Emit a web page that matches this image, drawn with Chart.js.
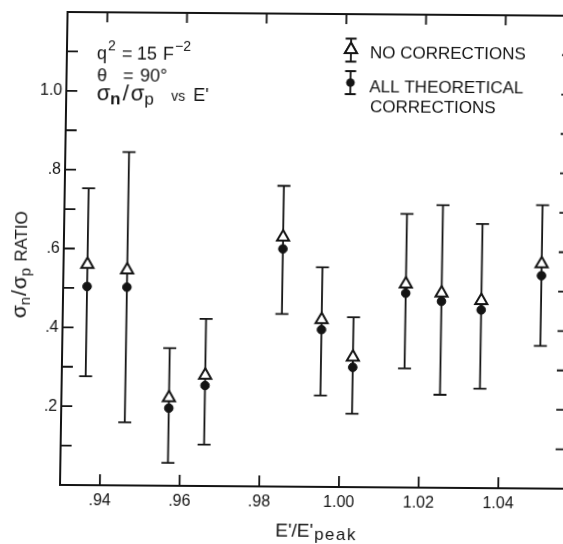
<!DOCTYPE html>
<html>
<head>
<meta charset="utf-8">
<script src="https://cdn.jsdelivr.net/npm/chart.js@4/dist/chart.umd.min.js"></script>
<style>
  html, body { margin: 0; padding: 0; background: #fff; overflow: hidden; }
  #wrap { position: relative; width: 563px; height: 544px; overflow: hidden; }
  /* the scanned figure is slightly skewed */
  #ratioChart { position: absolute; left: 0; top: 0; transform-origin: 60px 485px; transform: matrix(1, 0.0075, -0.016, 1, 0, 0); }
</style>
</head>
<body>
<div id="wrap"><canvas id="ratioChart" width="600" height="544"></canvas></div>
<script>
// E'/E'peak of each measurement
const energy = [0.936, 0.946, 0.957, 0.966, 0.985, 0.995, 1.003, 1.016, 1.025, 1.035, 1.050];
// sigma_n / sigma_p, no corrections (open triangles)
const noCorr = [0.560, 0.547, 0.223, 0.281, 0.633, 0.424, 0.330, 0.516, 0.494, 0.476, 0.570];
// sigma_n / sigma_p, all theoretical corrections (filled circles)
const allCorr = [0.504, 0.503, 0.197, 0.255, 0.603, 0.399, 0.304, 0.493, 0.473, 0.452, 0.540];
// error bar ends
const errHigh = [0.753, 0.846, 0.349, 0.424, 0.763, 0.557, 0.431, 0.694, 0.717, 0.670, 0.719];
const errLow = [0.276, 0.160, 0.058, 0.105, 0.438, 0.232, 0.186, 0.302, 0.236, 0.252, 0.362];

const xTickValues = [0.94, 0.96, 0.98, 1.00, 1.02, 1.04];
const yTickValues = [0.2, 0.4, 0.6, 0.8, 1.0];
const yMinorTicks = [0.1, 0.2, 0.3, 0.4, 0.5, 0.6, 0.7, 0.8, 0.9, 1.0, 1.1];

const INK = '#141414';
const FONT = '"Liberation Sans", Arial, sans-serif';

function font(size, weight) {
  return (weight || 'normal') + ' ' + size + 'px ' + FONT;
}

// draw text pieces one after another (sub/superscripts);
// a piece may carry its own x (at) and extra space before it (gap)
function drawRuns(ctx, runs, x, y) {
  runs.forEach(r => {
    ctx.font = font(r.size, r.weight);
    if (r.at !== undefined) x = r.at;
    x += r.gap || 0;
    ctx.fillText(r.t, x, y + (r.dy || 0));
    x += ctx.measureText(r.t).width;
  });
  return x;
}

function runsWidth(ctx, runs) {
  let w = 0;
  runs.forEach(r => {
    ctx.font = font(r.size, r.weight);
    w += ctx.measureText(r.t).width + (r.gap || 0);
  });
  return w;
}

function errorBar(ctx, x, yTop, yBottom, cap) {
  ctx.beginPath();
  ctx.moveTo(x, yTop);
  ctx.lineTo(x, yBottom);
  ctx.moveTo(x - cap, yTop);
  ctx.lineTo(x + cap, yTop);
  ctx.moveTo(x - cap, yBottom);
  ctx.lineTo(x + cap, yBottom);
  ctx.stroke();
}

// -------------------
// Error bars, under the markers
// -------------------
const errorBarPlugin = {
  id: 'errorBars',
  beforeDatasetsDraw(chart) {
    const { ctx, scales: { x, y } } = chart;
    ctx.save();
    ctx.strokeStyle = INK;
    ctx.lineWidth = 1.8;
    energy.forEach((e, i) => {
      errorBar(ctx, x.getPixelForValue(e), y.getPixelForValue(errHigh[i]), y.getPixelForValue(errLow[i]), 6.5);
    });
    ctx.restore();
  }
};

// -------------------
// Box with inward ticks on all four sides
// -------------------
const framePlugin = {
  id: 'frame',
  afterDatasetsDraw(chart) {
    const { ctx, chartArea: a, scales: { x, y } } = chart;
    const len = 11;
    ctx.save();
    ctx.strokeStyle = INK;
    ctx.lineWidth = 2;
    ctx.strokeRect(a.left, a.top, a.right - a.left, a.bottom - a.top);
    ctx.lineWidth = 1.8;
    ctx.beginPath();
    xTickValues.forEach(v => {
      const px = x.getPixelForValue(v);
      ctx.moveTo(px, a.bottom);
      ctx.lineTo(px, a.bottom - len);
      ctx.moveTo(px, a.top);
      ctx.lineTo(px, a.top + len - 1);
    });
    yMinorTicks.forEach(v => {
      const py = y.getPixelForValue(v);
      ctx.moveTo(a.left, py);
      ctx.lineTo(a.left + len, py);
      ctx.moveTo(a.right, py);
      ctx.lineTo(a.right - len, py);
    });
    ctx.stroke();
    ctx.restore();
  }
};

// -------------------
// Axis titles, notes and the key
// -------------------
const notesPlugin = {
  id: 'notes',
  afterDraw(chart) {
    const ctx = chart.ctx;
    ctx.save();
    ctx.fillStyle = INK;
    ctx.strokeStyle = INK;
    ctx.textBaseline = 'alphabetic';
    ctx.textAlign = 'left';

    // top-left notes
    drawRuns(ctx, [
      { t: 'q', size: 18, at: 90 }, { t: '2', size: 14, dy: -9, gap: 1 },
      { t: '=', size: 18, at: 115 }, { t: '15', size: 18, at: 130 },
      { t: 'F', size: 18, at: 156 }, { t: '\u22122', size: 14, dy: -9, gap: 1 }
    ], 90, 58.5);
    drawRuns(ctx, [
      { t: '\u03B8', size: 18, at: 90.5 }, { t: '=', size: 18, at: 116.5 },
      { t: '90\u00B0', size: 18, at: 133.5 }
    ], 90, 81);
    drawRuns(ctx, [
      { t: '\u03C3', size: 22 }, { t: 'n', size: 17, weight: 'bold', dy: 4 },
      { t: '/', size: 22, gap: 2 }, { t: '\u03C3', size: 22, gap: 2 },
      { t: 'p', size: 17, dy: 4 },
      { t: 'vs', size: 14, at: 165 }, { t: "E'", size: 18, at: 187 }
    ], 90.5, 99.5);

    // key
    const kx = 344;
    ctx.lineWidth = 1.8;
    errorBar(ctx, kx, 36.5, 59.5, 5.5);
    ctx.beginPath();
    ctx.fillStyle = '#fff';
    Chart.helpers.drawPoint(ctx, { pointStyle: 'triangle', radius: 7, borderWidth: 2 }, kx, 47.5);
    ctx.fill();
    ctx.lineWidth = 2;
    ctx.stroke();
    ctx.lineWidth = 1.8;
    errorBar(ctx, kx, 69, 92, 5.5);
    ctx.fillStyle = INK;
    ctx.beginPath();
    ctx.arc(kx, 80.5, 4.3, 0, Math.PI * 2);
    ctx.fill();
    ctx.font = font(17);
    ctx.fillText('NO CORRECTIONS', 363, 56);
    ctx.fillText('ALL THEORETICAL', 363, 90);
    ctx.fillText('CORRECTIONS', 364, 109.5);

    // x axis title
    drawRuns(ctx, [
      { t: "E'/E'", size: 19 }, { t: 'p', size: 17, dy: 3, gap: 1 }, { t: 'e', size: 17, dy: 3, gap: 1.5 },
      { t: 'a', size: 17, dy: 3, gap: 1.5 }, { t: 'k', size: 17, dy: 3, gap: 1.5 }
    ], 276, 535);

    // y axis title (rotated)
    const yRuns = [
      { t: '\u03C3', size: 21 }, { t: 'n', size: 15, dy: 4 },
      { t: '/', size: 21, gap: 1 }, { t: '\u03C3', size: 21, gap: 1 }, { t: 'p', size: 15, dy: 4 },
      { t: 'RATIO', size: 17, gap: 6 }
    ];
    ctx.translate(23, 265);
    ctx.rotate(-Math.PI / 2);
    drawRuns(ctx, yRuns, -runsWidth(ctx, yRuns) / 2, 0);
    ctx.restore();
  }
};

const tickFont = { family: FONT, size: 16 };

new Chart(document.getElementById('ratioChart'), {
  type: 'scatter',
  data: {
    datasets: [{
      label: 'NO CORRECTIONS',
      data: energy.map((e, i) => ({ x: e, y: noCorr[i] })),
      pointStyle: 'triangle',
      pointRadius: 7,
      pointBackgroundColor: '#fff',
      pointBorderColor: INK,
      pointBorderWidth: 2,
      showLine: false
    }, {
      label: 'ALL THEORETICAL CORRECTIONS',
      data: energy.map((e, i) => ({ x: e, y: allCorr[i] })),
      pointStyle: 'circle',
      pointRadius: 4.3,
      pointBackgroundColor: INK,
      pointBorderColor: INK,
      pointBorderWidth: 1,
      showLine: false
    }]
  },
  options: {
    responsive: false,
    animation: false,
    devicePixelRatio: 1,
    layout: { padding: { top: 12, right: 34, left: 0, bottom: 0 } },
    plugins: {
      legend: { display: false },
      tooltip: { enabled: false }
    },
    scales: {
      x: {
        type: 'linear',
        min: 0.93,
        max: 1.057,
        grid: { display: false, drawTicks: false },
        border: { display: false },
        ticks: {
          color: INK,
          font: tickFont,
          padding: 6,
          maxRotation: 0,
          callback: v => v < 1 ? '.' + Math.round(v * 100) : v.toFixed(2)
        },
        afterBuildTicks: scale => { scale.ticks = xTickValues.map(v => ({ value: v })); },
        afterFit: scale => { scale.height = 59; scale.paddingLeft = 0; scale.paddingRight = 0; }
      },
      y: {
        type: 'linear',
        min: 0,
        max: 1.2,
        grid: { display: false, drawTicks: false },
        border: { display: false },
        ticks: {
          color: INK,
          font: tickFont,
          padding: 4,
          callback: v => v < 1 ? '.' + Math.round(v * 10) : v.toFixed(1)
        },
        afterBuildTicks: scale => { scale.ticks = yTickValues.map(v => ({ value: v })); },
        afterFit: scale => { scale.width = 60; scale.paddingTop = 0; scale.paddingBottom = 0; }
      }
    }
  },
  plugins: [errorBarPlugin, framePlugin, notesPlugin]
});
</script>
</body>
</html>
